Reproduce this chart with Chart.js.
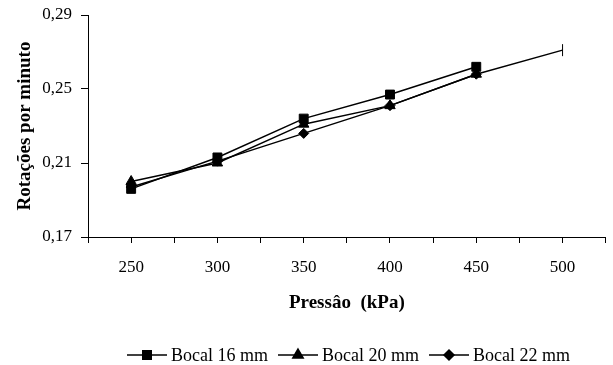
<!DOCTYPE html>
<html>
<head>
<meta charset="utf-8">
<script src="https://cdn.jsdelivr.net/npm/chart.js@4.4.0/dist/chart.umd.min.js"></script>
<style>
  html, body { margin: 0; padding: 0; background: #fff; overflow: hidden; }
  #wrap { width: 613px; height: 365px; position: relative; }
  canvas { display: block; }
</style>
</head>
<body>
<div id="wrap"><canvas id="grafico"></canvas></div>
<script>
// pressões (kPa) e rotações por minuto
let pressoes = [250, 300, 350, 400, 450, 500];
let bocal16 = [0.196, 0.213, 0.234, 0.247, 0.262, null];
let bocal20 = [0.200, 0.210, 0.231, 0.241, 0.258, 0.271];
let bocal22 = [0.197, 0.211, 0.226, 0.241, 0.258, null];
let nomes = ['Bocal 16 mm', 'Bocal 20 mm', 'Bocal 22 mm'];
let marcadores = ['rect', 'triangle', 'rectRot'];

const fonte = 'Liberation Serif, Times New Roman, serif';

const pontos = (serie) => pressoes.map((p, i) => ({ x: p, y: serie[i] }));

// o ultimo ponto do bocal 20 tem um traço vertical
let estilo20 = pressoes.map((p, i) => i === pressoes.length - 1 ? 'line' : 'triangle');
let rot20 = pressoes.map((p, i) => i === pressoes.length - 1 ? 90 : 0);

function serie(nome, dados, marcador, raio) {
    return {
        label: nome,
        data: pontos(dados),
        borderColor: '#000',
        backgroundColor: '#000',
        borderWidth: 1.5,
        pointStyle: marcador,
        pointRadius: raio,
        pointBorderWidth: 1,
        pointBackgroundColor: '#000',
        pointBorderColor: '#000',
        tension: 0,
        fill: false
    };
}

let ds16 = serie(nomes[0], bocal16, 'rect', 6.3);
let ds20 = serie(nomes[1], bocal20, estilo20, 6);
ds20.pointRotation = rot20;
let ds22 = serie(nomes[2], bocal22, 'rectRot', 5);

// legenda desenhada à mão (linha com marcador no meio)
const legendaPlugin = {
    id: 'legenda',
    afterDraw(chart) {
        const ctx = chart.ctx;
        const y = 355;
        const xs = [127, 278, 429];
        ctx.save();
        ctx.strokeStyle = '#000';
        ctx.fillStyle = '#000';
        ctx.lineWidth = 1.5;
        ctx.font = '18px ' + fonte;
        ctx.textBaseline = 'middle';
        for (let i = 0; i < nomes.length; i++) {
            let x0 = xs[i];
            ctx.beginPath();
            ctx.moveTo(x0, y);
            ctx.lineTo(x0 + 40, y);
            ctx.stroke();
            Chart.helpers.drawPoint(ctx, {
                pointStyle: marcadores[i],
                radius: i === 2 ? 5 : 6,
                borderWidth: 1
            }, x0 + 20, y);
            ctx.fill();
            ctx.fillText(nomes[i], x0 + 44, y + 1);
        }
        ctx.restore();
    }
};

new Chart(document.getElementById('grafico'), {
    type: 'line',
    data: { datasets: [ds16, ds20, ds22] },
    options: {
        responsive: true,
        maintainAspectRatio: false,
        animation: false,
        layout: { padding: { left: 0, top: 15, right: 2, bottom: 50 } },
        plugins: {
            legend: { display: false },
            tooltip: { enabled: false }
        },
        scales: {
            x: {
                type: 'linear',
                min: 225,
                max: 525,
                afterFit: (s) => { s.height = 78; s.paddingLeft = 0; s.paddingRight = 0; },
                ticks: {
                    stepSize: 25,
                    autoSkip: false,
                    maxRotation: 0,
                    padding: 14,
                    color: '#000',
                    font: { family: fonte, size: 17 },
                    callback: (v) => v % 50 === 0 && v <= 500 ? String(v) : ''
                },
                grid: { drawOnChartArea: false, drawTicks: true, tickLength: 6, color: '#000', lineWidth: 1 },
                border: { display: true, color: '#000', width: 1 },
                title: {
                    display: true,
                    text: 'Pressâo  (kPa)',
                    color: '#000',
                    font: { family: fonte, size: 19, weight: 'bold' },
                    padding: { top: 0, bottom: 1 }
                }
            },
            y: {
                min: 0.17,
                max: 0.29,
                afterFit: (s) => { s.width = 88; s.paddingTop = 0; s.paddingBottom = 0; },
                ticks: {
                    stepSize: 0.04,
                    padding: 9,
                    color: '#000',
                    font: { family: fonte, size: 17 },
                    callback: (v) => v.toFixed(2).replace('.', ',')
                },
                grid: { drawOnChartArea: false, drawTicks: true, tickLength: 7, color: '#000', lineWidth: 1 },
                border: { display: true, color: '#000', width: 1 },
                title: {
                    display: true,
                    text: 'Rotações por minuto',
                    color: '#000',
                    font: { family: fonte, size: 19, weight: 'bold' },
                    padding: { top: 14, bottom: 0 }
                }
            }
        }
    },
    plugins: [legendaPlugin]
});
</script>
</body>
</html>
